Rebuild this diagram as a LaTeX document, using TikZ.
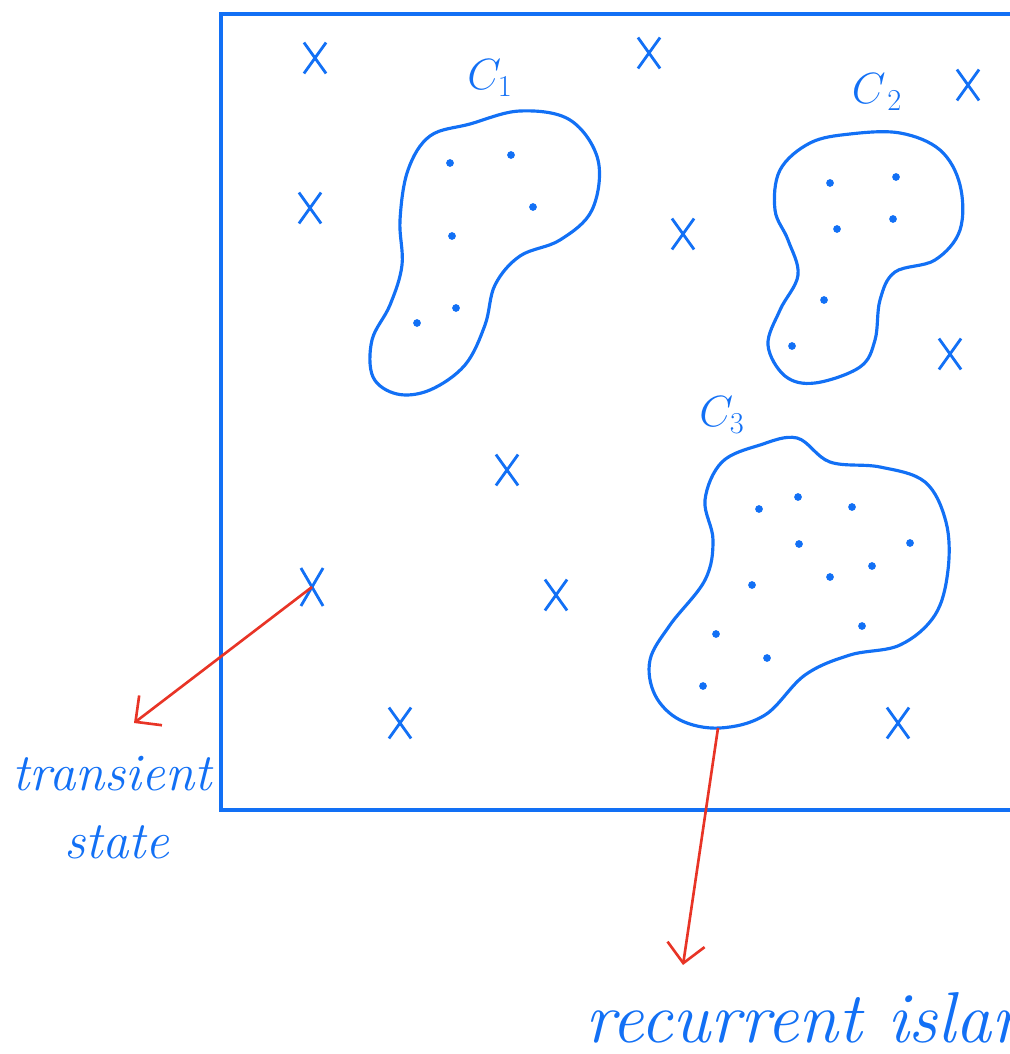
\documentclass[tikz,border=0pt]{standalone}
\usepackage{tikz}
\usetikzlibrary{arrows.meta,shapes.misc}
\definecolor{ink}{RGB}{18,112,245}
\definecolor{pen}{RGB}{232,52,38}
\tikzset{
  blob/.style={ink, line width=1.8pt},
  state/.style={cross out, draw=ink, line width=1.6pt, minimum width=11pt, minimum height=16pt, inner sep=0pt},
  pt/.style={ink},
  lbl/.style={ink, font=\fontsize{24}{26}\selectfont},
  hand/.style={ink, font=\itshape\fontsize{30}{32}\selectfont, inner sep=0pt},
  link/.style={pen, line width=1.5pt, -{Straight Barb[length=3.8mm,width=7.5mm]}}
}
\begin{document}
\begin{tikzpicture}[x=0.02cm, y=-0.02cm]
        % Cadre de l'image
        \useasboundingbox (0,0) rectangle (1010,1054);
        \clip (0,0) rectangle (1010,1054);

        % Espace d'etats
        \draw[ink, line width=1.9pt] (221,14) rectangle (1030,810);

        % Etats transitoires (les croix)
        \node[state] (s1) at (315,58) {};
        \node[state] (s2) at (649,53) {};
        \node[state] (s3) at (968,85) {};
        \node[state] (s4) at (310,208) {};
        \node[state] (s5) at (683,234) {};
        \node[state] (s6) at (950,354) {};
        \node[state] (s7) at (507,470) {};
        \node[state, minimum width=11pt, minimum height=20pt] (s8) at (312,587) {};
        \node[state] (s9) at (556,595) {};
        \node[state] (s10) at (400,723) {};
        \node[state] (s11) at (898,723) {};

        % Classe recurrente C_1
        \draw[blob] plot[smooth cycle, tension=0.6] coordinates {
          (470,124) (520,111) (570,120) (598,160) (592,210) (560,240) (520,256)
          (495,285) (485,325) (465,365) (430,390) (397,394) (373,377) (372,340)
          (390,305) (402,265) (400,220) (408,170) (430,136)};
        \node[lbl] (c1) at (490,78) {$C_{1}$};
        \foreach \p in {(450,163),(511,155),(533,207),(452,236),(417,323),(456,308)}
          \fill[pt] \p circle (2.2pt);

        % Classe recurrente C_2
        \draw[blob] plot[smooth cycle, tension=0.6] coordinates {
          (850,134) (900,133) (940,150) (960,185) (960,230) (935,260) (895,272)
          (880,300) (875,340) (860,367) (815,383) (785,376) (768,345) (780,310)
          (798,275) (788,240) (775,210) (780,170) (810,143)};
        \node[lbl] (c2) at (877,92) {$C_{\,2}$};
        \foreach \p in {(830,183),(896,177),(893,219),(837,229),(824,300),(792,346)}
          \fill[pt] \p circle (2.2pt);

        % Classe recurrente C_3
        \draw[blob] plot[smooth cycle, tension=0.6] coordinates {
          (760,445) (797,438) (830,462) (880,467) (925,482) (946,522) (948,570)
          (935,615) (900,645) (850,655) (805,675) (765,715) (720,728) (680,720)
          (655,695) (650,660) (670,625) (705,580) (713,540) (705,500) (722,462)};
        \node[lbl] (c3) at (722,415) {$C_{3}$};
        \foreach \p in {(759,509),(798,497),(852,507),(910,543),(799,544),(872,566),
                        (830,577),(752,585),(862,626),(716,634),(767,658),(703,686)}
          \fill[pt] \p circle (2.2pt);

        % Legendes
        \node[hand, anchor=base] (trans) at (112,790) {transient};
        \node[hand, anchor=base] (stat) at (117,858) {state};
        \node[hand, anchor=base west, font=\itshape\fontsize{41}{43}\selectfont] (rec) at (585,1042) {recurrent island};

        % Fleches
        \coordinate (tip1) at (134,723);
        \coordinate (foot3) at (718,728);
        \coordinate (tip3) at (683,965);
        \draw[link] (s8.center) -- (tip1);
        \draw[link] (foot3) -- (tip3);

    \end{tikzpicture}
\end{document}
